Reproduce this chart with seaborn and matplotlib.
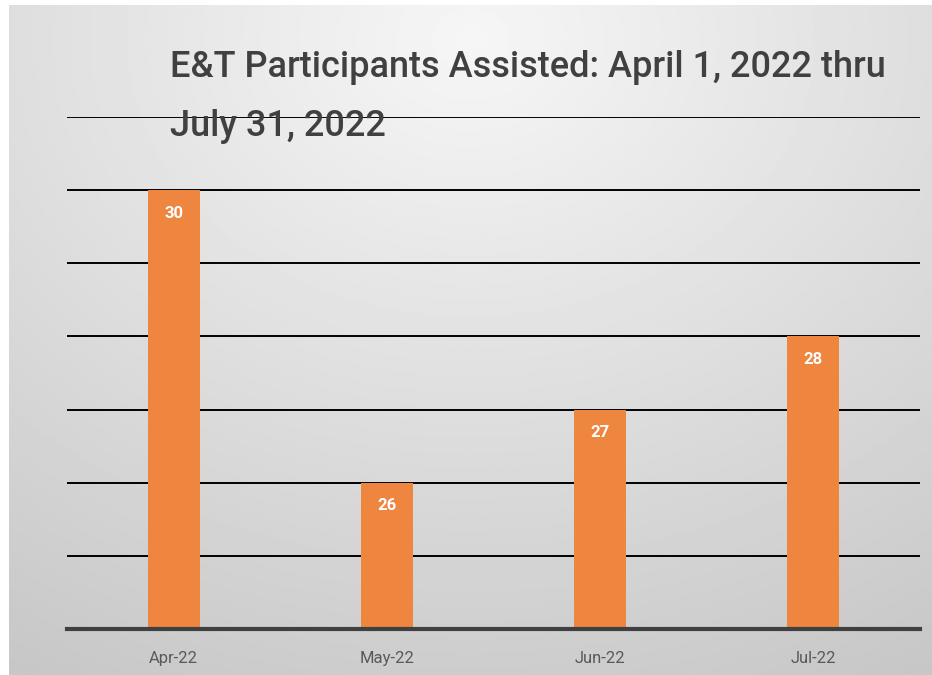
import numpy as np
import pandas as pd
import matplotlib
matplotlib.use("Agg")
import matplotlib.pyplot as plt
import seaborn as sns

months = ["Apr-22", "May-22", "Jun-22", "Jul-22"]
participants = [30, 26, 27, 28]
title_lines = ["E&T Participants Assisted: April 1, 2022 thru", "July 31, 2022"]

sns.set_style("white")
plt.rcParams['font.family'] = ['Roboto', 'DejaVu Sans']

W, H = 932, 675
fig = plt.figure(figsize=(W / 100, H / 100), dpi=100)

# gradient background
bg = fig.add_axes([9 / W, 0, 1 - 9 / W, 1 - 5 / H], zorder=-5)
yy, xx = np.mgrid[0:1:300j, 0:1:400j]
d = np.sqrt(((xx - 0.5) / 0.9) ** 2 + ((yy - 0.05) / 1.0) ** 2)
shade = 0.965 - 0.17 * np.clip(d, 0, 1.2)
bg.imshow(shade, cmap="gray", vmin=0, vmax=1, aspect="auto", extent=[0, 1, 1, 0])
bg.axis("off")

ax = fig.add_axes([67 / W, 46 / H, (920 - 67) / W, (629 - 117) / H])
ax.patch.set_alpha(0)
df = pd.DataFrame({"month": months, "count": participants})
sns.barplot(data=df, x="month", y="count", color="#EE8640", saturation=1,
            width=0.245, ax=ax, zorder=3, linewidth=0)
ax.set_ylim(24, 31)
ax.set_xlim(-0.5, 3.5)
ax.set_yticks(range(25, 32))
ax.yaxis.grid(True, color="black", linewidth=1.4, zorder=0)
ax.set_axisbelow(True)
ax.tick_params(axis="y", left=False, labelleft=False)
ax.tick_params(axis="x", bottom=False, labelsize=12, labelcolor="#595959", pad=12)
ax.set_xlabel("")
ax.set_ylabel("")
for s in ["top", "right", "left"]:
    ax.spines[s].set_visible(False)
ax.spines["bottom"].set_color("#404040")
ax.spines["bottom"].set_linewidth(3)
ax.spines["bottom"].set_zorder(4)

for c in ax.containers:
    ax.bar_label(c, padding=-22, color="white", fontweight="bold", fontsize=12)

baselines = [77, 136]
for line, yb in zip(title_lines, baselines):
    fig.text(170 / W, 1 - yb / H, line, fontsize=26, color="#404040",
             va="baseline", ha="left", fontweight="medium")

fig.savefig("out.png", dpi=100)
